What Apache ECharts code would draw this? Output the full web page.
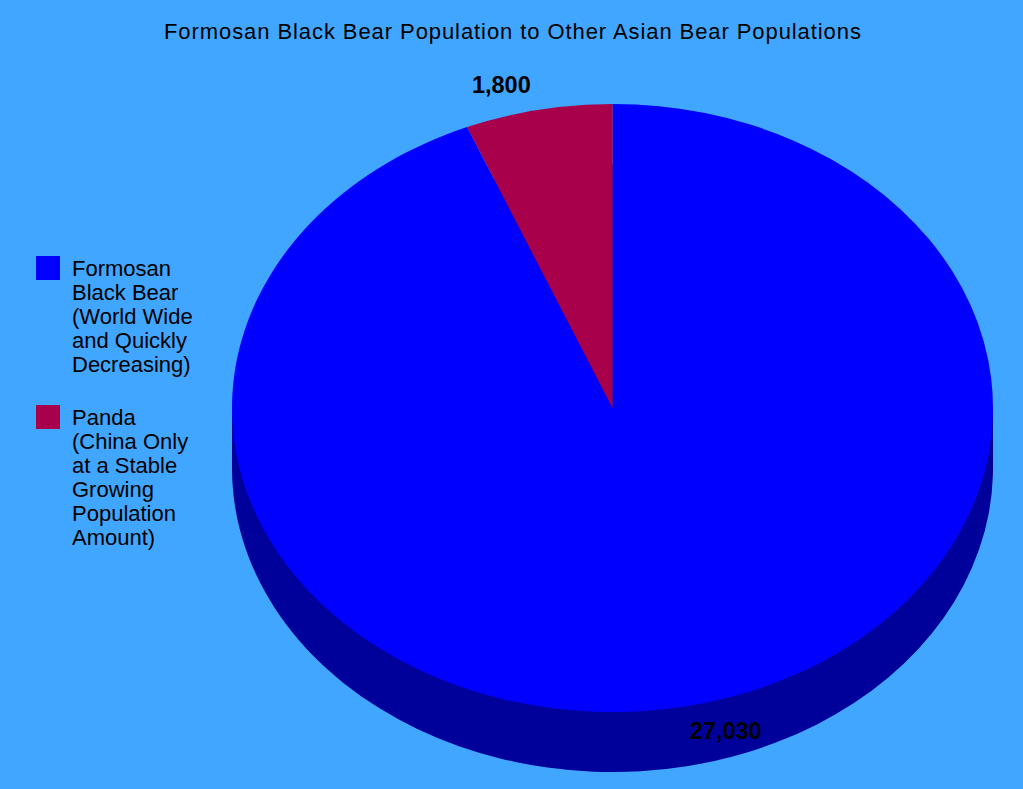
<!DOCTYPE html>
<html><head><meta charset="utf-8">
<script src="https://cdn.jsdelivr.net/npm/echarts@6/dist/echarts.min.js"></script>
<style>html,body{margin:0;padding:0;background:#40a6ff}#c{width:1023px;height:789px}
svg text[style*="Arial"]{letter-spacing:0.92px}</style>
</head><body><div id="c"></div>
<script>
const titleText = "Formosan Black Bear Population to Other Asian Bear Populations";
const categories = ["Formosan\nBlack Bear\n(World Wide\nand Quickly\nDecreasing)", "Panda\n(China Only\nat a Stable\nGrowing\nPopulation\nAmount)"];
const values = [27030, 1800];
const colors = ["#0000ff", "#a8004a"];
const sideColors = ["#00009b", "#00009b"];

const total = values.reduce((a, b) => a + b, 0);
const C = {x: 612.5, y: 408, rx: 380.5, ry: 304, depth: 60};
const fmt = v => v.toLocaleString("en-US");
function angles(i) {
  let s = -Math.PI / 2;
  for (let k = 0; k < i; k++) s += values[k] / total * 2 * Math.PI;
  return [s, s + values[i] / total * 2 * Math.PI];
}
const sector = (i, dy, fill) => {
  const [a, b] = angles(i);
  return {type: "sector", x: C.x, y: C.y + dy, scaleY: C.ry / C.rx,
    shape: {cx: 0, cy: 0, r: C.rx, r0: 0, startAngle: a, endAngle: b, clockwise: true},
    style: {fill}};
};
const labelOffset = [[39, 25], [-37, -25]];
const sliceSeries = categories.map((name, i) => ({
  type: "custom", name, coordinateSystem: "none", silent: true, z: 3, animation: false,
  itemStyle: {color: colors[i]},
  data: [values[i]],
  renderItem: () => sector(i, 0, colors[i])
}));
const labelSeries = {
  type: "custom", name: "labels", coordinateSystem: "none", silent: true, z: 5, animation: false,
  data: values,
  renderItem: (p, api) => {
    const i = p.dataIndex, [a, b] = angles(i), m = (a + b) / 2;
    return {type: "text",
      x: C.x + C.rx * Math.cos(m) + labelOffset[i][0],
      y: C.y + C.ry * Math.sin(m) + labelOffset[i][1],
      style: {text: fmt(api.value(0)), fill: "#000", align: "center", verticalAlign: "middle",
        font: "bold 23.5px 'Liberation Sans'"}};
  }
};
const sideSeries = {
  type: "custom", name: "side", coordinateSystem: "none", silent: true, z: 1, animation: false,
  data: values,
  renderItem: (p) => ({type: "group", children: [
    sector(p.dataIndex, C.depth, sideColors[p.dataIndex]),
    {type: "rect", shape: {x: C.x - C.rx, y: C.y, width: 2 * C.rx, height: C.depth}, style: {fill: sideColors[0]}}
  ]})
};
const chart = echarts.init(document.getElementById("c"), null, {renderer: "svg"});
chart.setOption({
  backgroundColor: "#40a6ff",
  animation: false,
  title: {text: titleText, left: 159, top: 15,
    textStyle: {fontFamily: "Liberation Sans, Arial", fontSize: 22, fontWeight: "normal", color: "#000"}},
  legend: {
    orient: "vertical", left: 36, top: 160, padding: 0, itemWidth: 24, itemHeight: 24, itemGap: -91,
    selectedMode: false, icon: "rect", align: "left",
    formatter: name => "\n".repeat(name.split("\n").length - 1) + name,
    textStyle: {fontFamily: "Liberation Sans", fontSize: 22, lineHeight: 24, color: "#000", padding: [0, 0, 0, 7]},
    data: categories
  },
  series: [sideSeries, ...sliceSeries, labelSeries]
});
</script></body></html>
